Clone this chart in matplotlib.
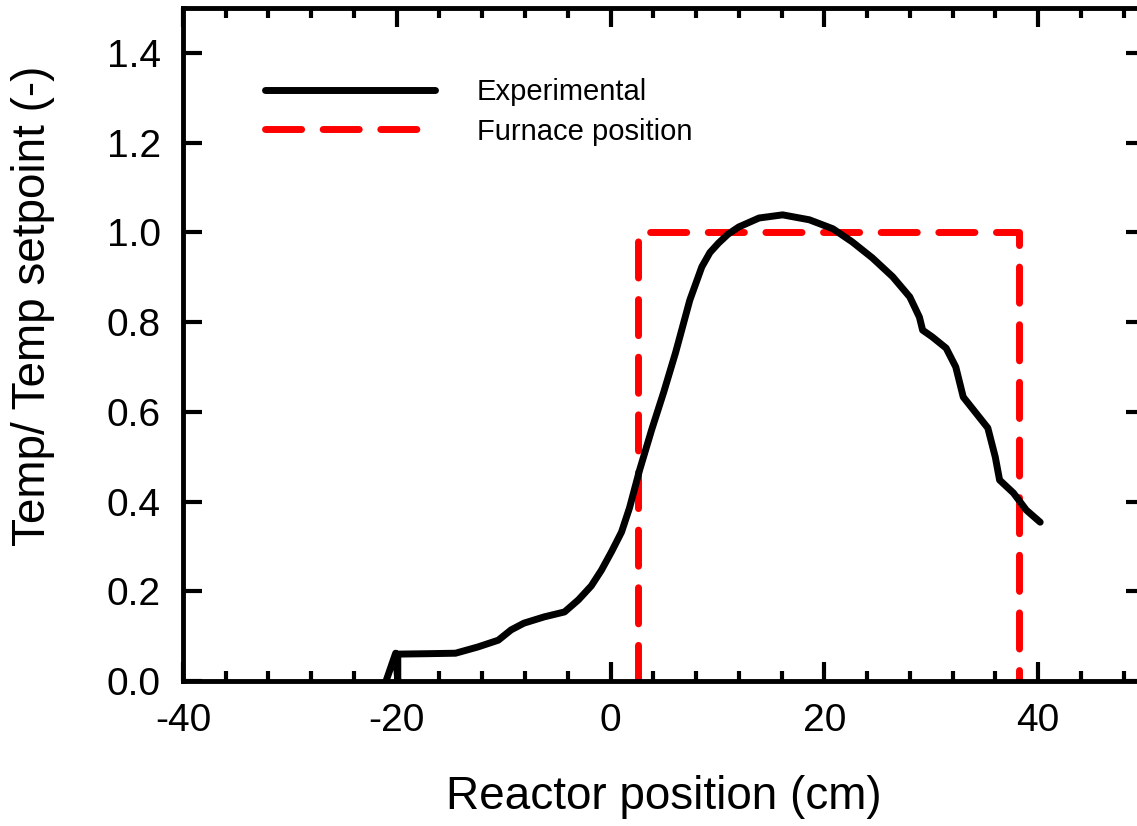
import matplotlib
matplotlib.use('Agg')
import matplotlib.pyplot as plt
from matplotlib.ticker import MultipleLocator

plt.rcParams['font.family'] = ['Liberation Sans', 'DejaVu Sans']
plt.rcParams['axes.unicode_minus'] = False

# measured temperature profile (normalised by the setpoint)
pos_exp = [-21.0, -20.1, -19.9, -19.9, -17.0, -14.5, -12.4, -10.5, -9.3, -8.1,
           -6.2, -4.3, -3.0, -1.8, -0.85, 0.09, 1.03, 1.78, 2.72, 3.85, 4.98,
           6.10, 7.42, 8.54, 9.3, 10.1, 11.0, 12.0, 13.9, 16.1, 18.6, 20.8,
           22.6, 24.5, 26.4, 28.0, 28.9, 29.2, 30.1, 31.4, 32.3, 33.0, 34.2,
           35.3, 36.0, 36.4, 37.7, 38.9, 40.2]
temp_exp = [0.0, 0.062, 0.0, 0.060, 0.061, 0.062, 0.076, 0.091, 0.114, 0.129,
            0.143, 0.154, 0.181, 0.212, 0.247, 0.288, 0.332, 0.386, 0.470,
            0.560, 0.644, 0.733, 0.849, 0.923, 0.955, 0.976, 0.996, 1.012,
            1.032, 1.039, 1.028, 1.008, 0.979, 0.943, 0.901, 0.856, 0.811,
            0.782, 0.767, 0.742, 0.700, 0.633, 0.597, 0.564, 0.499, 0.448,
            0.419, 0.381, 0.354]

# furnace extent
pos_furnace = [2.6, 2.6, 38.2, 38.2]
temp_furnace = [0.0, 1.0, 1.0, 0.0]

fig = plt.figure(figsize=(11.37, 8.26), dpi=100)
ax = fig.add_axes([0.1609, 0.1755, 0.8461, 0.8148])

ax.plot(pos_exp, temp_exp, color='black', lw=5, solid_capstyle='round',
        solid_joinstyle='round', label='Experimental', zorder=3)
ax.plot(pos_furnace, temp_furnace, color='#ff0000', lw=5, dashes=(5.2, 3.1),
        dash_capstyle='round', label='Furnace position', zorder=2)

ax.set_xlim(-40, 50)
ax.set_ylim(0, 1.5)
ax.xaxis.set_major_locator(MultipleLocator(20))
ax.xaxis.set_minor_locator(MultipleLocator(4))
ax.set_yticks([0.0, 0.2, 0.4, 0.6, 0.8, 1.0, 1.2, 1.4])
ax.yaxis.set_major_formatter(plt.FormatStrFormatter('%.1f'))

for s in ax.spines.values():
    s.set_linewidth(3.5)
ax.tick_params(which='both', direction='in', top=True, right=True,
               width=3, labelsize=28, pad=16)
ax.tick_params(which='major', length=14)
ax.tick_params(which='minor', length=7)

ax.set_xlabel('Reactor position (cm)', fontsize=33)
ax.set_ylabel('Temp/ Temp setpoint (-)', fontsize=33)
ax.xaxis.set_label_coords(0.5, -0.14)
ax.yaxis.set_label_coords(-0.133, 0.557)

ax.legend(loc='upper left', bbox_to_anchor=(0.0858, 0.896), frameon=False,
          fontsize=21, handlelength=5.8, handletextpad=1.45,
          labelspacing=0.4, borderpad=0, borderaxespad=0)

fig.savefig('out.png', dpi=100, facecolor='white')
